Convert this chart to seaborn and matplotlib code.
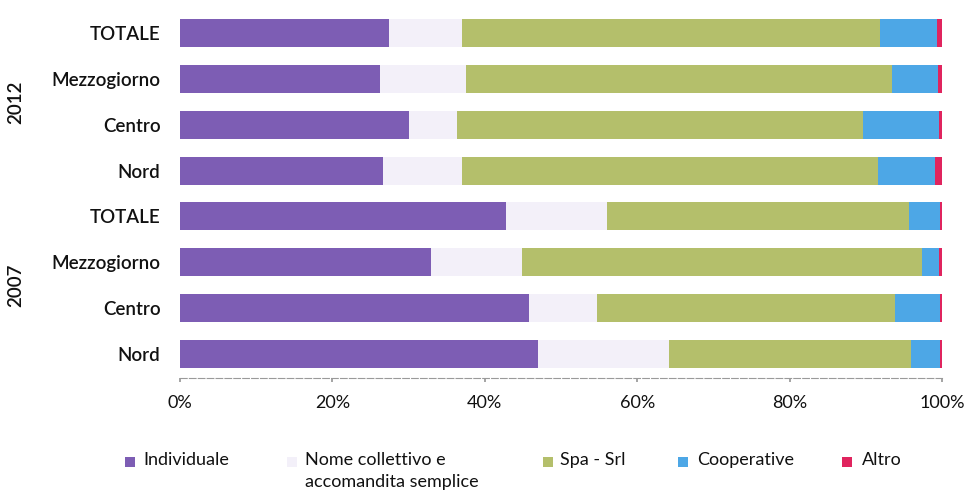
import matplotlib
matplotlib.use("Agg")
import matplotlib.pyplot as plt
import matplotlib.transforms as mtransforms
from matplotlib.patches import Rectangle
import pandas as pd
import seaborn as sns

# Rows from top to bottom
years = ["2012", "2012", "2012", "2012", "2007", "2007", "2007", "2007"]
areas = ["TOTALE", "Mezzogiorno", "Centro", "Nord", "TOTALE", "Mezzogiorno", "Centro", "Nord"]

# Share of firms by legal form (%)
individuale = [27.4, 26.2, 30.0, 26.7, 42.8, 32.9, 45.8, 47.0]
nome_collettivo = [9.6, 11.3, 6.3, 10.3, 13.3, 12.0, 8.9, 17.2]
spa_srl = [54.8, 56.0, 53.3, 54.6, 39.6, 52.5, 39.1, 31.7]
cooperative = [7.5, 6.0, 10.0, 7.5, 4.0, 2.2, 5.9, 3.8]
altro = [0.7, 0.5, 0.4, 0.9, 0.3, 0.4, 0.3, 0.3]

series_names = ["Individuale", "Nome collettivo e\naccomandita semplice",
                "Spa - Srl", "Cooperative", "Altro"]
series_colors = ["#7D5DB4", "#F3F0F9", "#B4BF6B", "#4DA7E6", "#E0245E"]

x_ticks = [0, 20, 40, 60, 80, 100]
x_tick_labels = ["0%", "20%", "40%", "60%", "80%", "100%"]

sns.set_theme(style="white")
plt.rcParams["font.family"] = ["Lato", "DejaVu Sans"]

W, H = 970, 495

row_ids = [f"{y} {a}" for y, a in zip(years, areas)]
df = pd.DataFrame({
    "row": row_ids,
    series_names[0]: individuale,
    series_names[1]: nome_collettivo,
    series_names[2]: spa_srl,
    series_names[3]: cooperative,
    series_names[4]: altro,
})
cum = df[series_names].cumsum(axis=1)

fig = plt.figure(figsize=(W / 100, H / 100), dpi=100)
ax = fig.add_axes([180 / W, (H - 378) / H, 762 / W, 368 / H])

# Stack by overlaying cumulative totals, widest first
for name, color in reversed(list(zip(series_names, series_colors))):
    sns.barplot(x=cum[name], y=df["row"], orient="h", color=color,
                width=0.61, linewidth=0, saturation=1, ax=ax, order=row_ids)

ax.set_xlim(0, 100)
ax.set_ylim(len(row_ids) - 0.48, -0.5)
ax.set_xticks(x_ticks)
ax.set_xticklabels(x_tick_labels, fontsize=13, color="#111111")
ax.set_yticks(range(len(row_ids)))
ax.set_yticklabels(areas, fontsize=13.5, fontweight="semibold", color="#111111")
ax.set_xlabel("")
ax.set_ylabel("")
ax.tick_params(axis="y", length=0, pad=14)
ax.tick_params(axis="x", length=3, color="#999999", pad=9, bottom=True)

for side in ["top", "right", "left"]:
    ax.spines[side].set_visible(False)
ax.spines["bottom"].set_color("#9a9a9a")
ax.spines["bottom"].set_linewidth(0.8)
ax.spines["bottom"].set_linestyle((0, (6, 2)))

# Year group labels
trans = mtransforms.blended_transform_factory(fig.transFigure, ax.transData)
for label, ypos in [("2012", 1.5), ("2007", 5.5)]:
    ax.text(16 / W, ypos, label, rotation=90, ha="center", va="center",
            fontsize=13.5, fontweight="semibold", color="#111111", transform=trans)

# Legend row below the axis: square swatch followed by its label
swatch_x = [125, 287, 543, 678, 842]
text_x = [143, 305, 560, 697, 862]
sw = 10
line_y = 462
for name, color, sx, tx in zip(series_names, series_colors, swatch_x, text_x):
    fig.add_artist(Rectangle((sx / W, (H - line_y - sw / 2) / H), sw / W, sw / H,
                             facecolor=color, edgecolor="none",
                             transform=fig.transFigure))
    fig.text(tx / W, (H - line_y + 10) / H, name, ha="left", va="top",
             fontsize=13, linespacing=1.5, color="#111111")

fig.savefig("out.png", dpi=100)
